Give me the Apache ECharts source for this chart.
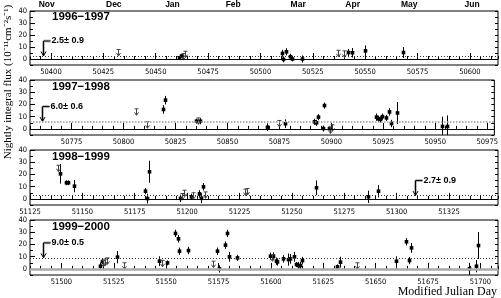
<!DOCTYPE html>
<html><head><meta charset="utf-8">
<script src="https://cdn.jsdelivr.net/npm/echarts@6/dist/echarts.min.js"></script>
<style>html,body{margin:0;padding:0;background:#fff}#c{width:501px;height:298px}</style>
</head><body><div id="c"></div>
<script>
// ---- data ----
const seasons = ['1996\u22121997', '1997\u22121998', '1998\u22121999', '1999\u22122000'];
const panelStart = [50390, 50755, 51125, 51485];
const averages = [2.5, 6.0, 2.7, 9.0];
const averageErr = [0.9, 0.6, 0.9, 0.5];
const averageMarkDay = [50396.2, 50761, 51309, 51491.4];
const monthNames = ['Nov', 'Dec', 'Jan', 'Feb', 'Mar', 'Apr', 'May', 'Jun'];
const monthDays = [50398, 50430, 50458, 50487, 50518, 50544, 50571, 50601];
const yTickLabels = [0, 10, 20, 30, 40];

const p1Day = [50461, 50462, 50510.3, 50510.8, 50512.2, 50514.1, 50515, 50519.8, 50541.8, 50543.7, 50550, 50568];
const p1Flux = [1, 2.5, 4.6, -0.3, 6, 1.9, 0, 0, 5.4, 5.2, 6.8, 5.4];
const p1Err = [1.5, 1.5, 3, 2.5, 3, 2.5, 2, 3, 3, 4, 4.5, 4.5];
const p1UlDay = [50432.2, 50463, 50464, 50537, 50539.9];
const p1UlFlux = [7.9, 4.5, 6.5, 7.3, 6.8];

const p2Day = [50819, 50820, 50835, 50837, 50868.8, 50877.7, 50891.5, 50892.6, 50893.6, 50895.8, 50896.6, 50898.7, 50921.4, 50922.2, 50923.3, 50924.2, 50926.5, 50927.6, 50928.6, 50931.6, 50953.3, 50955.5];
const p2Flux = [15.9, 23.5, 6.3, 6.3, 1.4, 4.2, 5.8, 5.0, 9.6, 0.3, 19.1, 0.3, 9.6, 8.3, 7.8, 10, 9, 13.9, 4.4, 13, 2, 2];
const p2Err = [3.5, 3.5, 2, 2.5, 3.2, 3.6, 2.5, 2.5, 2.5, 2.5, 2.5, 1.5, 3, 2.5, 2.5, 2.5, 2.5, 3, 3, 9, 8, 9];
const p2UlDay = [50806.1, 50811.2, 50836, 50874.8, 50899.5, 50900.3];
const p2UlFlux = [16.4, 5.8, 9, 6.9, 1.5, 3.4];

const p3Day = [51139.2, 51142, 51143.1, 51146, 51179.9, 51181, 51181.8, 51196.6, 51202, 51205.6, 51206.7, 51207.6, 51261.6, 51286.5, 51291.2];
const p3Flux = [20.5, 13.2, 13.2, 10.4, 6.3, 0.3, 22.2, 0.4, 1.7, 4.1, 0.5, 9.9, 9.1, 1.7, 6.3];
const p3Err = [8, 2, 2, 5, 2.5, 4, 9, 3, 2.5, 3, 4, 3, 6, 5, 5];
const p3UlDay = [51138.3, 51197.7, 51198.5, 51203, 51208.5, 51227.4, 51228.4];
const p3UlFlux = [27.5, 4.4, 7.1, 5, 5.7, 8, 8.5];

const p4Day = [51518.4, 51519.2, 51526.4, 51546.7, 51550.5, 51554.2, 51555.5, 51556.3, 51560.3, 51574.4, 51575.2, 51578.2, 51579.2, 51580.1, 51584, 51599.8, 51601, 51602.4, 51603, 51605.9, 51608, 51609.1, 51611, 51612, 51613.1, 51613.9, 51615, 51631.7, 51633, 51659.7, 51664.5, 51665.8, 51666.7, 51694.7, 51697.7, 51698.7];
const p4Flux = [2.2, 6, 9.6, 6.3, 4.9, 29, 24.6, 14.5, 15, 14.5, 0, 19.4, 29, 9.9, 9, 10.4, 10.4, 6.3, 5.7, 8.2, 7.6, 8.2, 9.9, 3.6, 2.7, 2.7, 6.8, 1.7, 5.5, 6.3, 22.2, 6.8, 17.2, 0, 2.2, 19.1];
const p4Err = [3, 2, 5, 4, 2, 3, 3, 3, 3, 3, 3, 3, 3, 4, 2.5, 3, 3, 3, 3, 3, 5, 4, 4, 2, 3, 3, 3, 2, 4.5, 4, 3, 3, 4, 5, 5, 11];
const p4UlDay = [51520, 51521, 51521.7, 51529.9, 51548, 51572.2, 51600.5, 51640.9];
const p4UlFlux = [7, 8, 9, 5, 7, 6.3, 11.5, 5];

// ---- build ----
const panels = [
  {day: p1Day, flux: p1Flux, err: p1Err, ulDay: p1UlDay, ulFlux: p1UlFlux},
  {day: p2Day, flux: p2Flux, err: p2Err, ulDay: p2UlDay, ulFlux: p2UlFlux},
  {day: p3Day, flux: p3Flux, err: p3Err, ulDay: p3UlDay, ulFlux: p3UlFlux},
  {day: p4Day, flux: p4Flux, err: p4Err, ulDay: p4UlDay, ulFlux: p4UlFlux}
];
const SPAN = 223.4;
const FONT = '"Liberation Sans Narrow","DejaVu Sans Condensed","Liberation Sans",sans-serif';
const grids = [], xAxes = [], yAxes = [], series = [];

function renderErr(params, api) {
  const d = api.value(0), f = api.value(1), e = api.value(2);
  const p = api.coord([d, f]);
  const hi = api.coord([d, f + e]), lo = api.coord([d, f - e]);
  const x = Math.round(p[0]) + 0.5;
  return {type: 'group', children: [
    {type: 'line', shape: {x1: x, y1: hi[1], x2: x, y2: lo[1]}, style: {stroke: '#000', lineWidth: 1}},
    {type: 'rect', shape: {x: x - 1.8, y: p[1] - 1.8, width: 3.6, height: 3.6}, style: {fill: '#000'}}
  ]};
}
function renderUl(params, api) {
  const p = api.coord([api.value(0), api.value(1)]);
  const x = Math.round(p[0]) + 0.5, y = p[1];
  const st = {stroke: '#444', lineWidth: 1, fill: null};
  return {type: 'group', children: [
    {type: 'line', shape: {x1: x - 2, y1: y, x2: x + 2, y2: y}, style: st},
    {type: 'line', shape: {x1: x, y1: y, x2: x, y2: y + 6}, style: st},
    {type: 'polyline', shape: {points: [[x - 2, y + 3.5], [x, y + 6.5], [x + 2, y + 3.5]]}, style: st}
  ]};
}
function renderAvg(params, api) {
  const p = api.coord([api.value(0), api.value(1)]);
  const x = Math.round(p[0]) + 0.5, y0 = p[1], yt = y0 - 15;
  const txt = api.value(1).toFixed(1) + '\u00b1 ' + api.value(2).toFixed(1);
  return {type: 'group', children: [
    {type: 'line', shape: {x1: x, y1: yt, x2: x, y2: y0 - 2}, style: {stroke: '#bbb', lineWidth: 3}},
    {type: 'line', shape: {x1: x, y1: yt, x2: x + 7, y2: yt}, style: {stroke: '#bbb', lineWidth: 3}},
    {type: 'line', shape: {x1: x, y1: yt, x2: x, y2: y0}, style: {stroke: '#000', lineWidth: 1}},
    {type: 'line', shape: {x1: x, y1: yt, x2: x + 7, y2: yt}, style: {stroke: '#000', lineWidth: 1}},
    {type: 'polyline', shape: {points: [[x - 2.5, y0 - 4.5], [x, y0], [x + 2.5, y0 - 4.5]]}, style: {stroke: '#000', lineWidth: 1, fill: null}},
    {type: 'text', x: x + 8, y: yt, style: {text: txt, fill: '#000', font: 'bold 9px "Liberation Sans", Arial, sans-serif', align: 'left', verticalAlign: 'middle'}}
  ]};
}

panels.forEach((pn, k) => {
  const min = panelStart[k], max = panelStart[k] + SPAN;
  grids.push({left: 30, right: 3, top: 10 + 70 * k, height: 55, show: true, borderColor: '#000', borderWidth: 1, backgroundColor: 'transparent'});
  const xi = xAxes.length;
  xAxes.push({type: 'value', gridIndex: k, min: min, max: max, interval: 5, position: 'bottom',
    axisLine: {show: false}, splitLine: {show: false},
    axisTick: {inside: true, length: 3, lineStyle: {color: '#000'}},
    axisLabel: {formatter: v => (Math.abs(v % 25) < 1e-6 ? String(v) : ''), fontSize: 7.5, fontFamily: FONT, color: '#000', margin: 3}});
  const majors = [];
  for (let v = Math.ceil(min / 25) * 25; v <= max; v += 25) majors.push(v);
  xAxes.push({type: 'value', gridIndex: k, min: min, max: max, position: 'bottom',
    axisLine: {show: false}, splitLine: {show: false}, axisLabel: {show: false},
    axisTick: {inside: true, length: 6, customValues: majors, lineStyle: {color: '#000'}}});
  if (k === 0) {
    xAxes.push({type: 'value', gridIndex: 0, min: min, max: max, position: 'top',
      axisLine: {show: false}, splitLine: {show: false}, axisTick: {show: false},
      axisLabel: {customValues: monthDays, formatter: v => monthNames[monthDays.indexOf(v)] || '',
        fontSize: 8.5, fontWeight: 'bold', fontFamily: '"Liberation Sans", Arial, sans-serif', color: '#000', margin: 2}});
  }
  const yi = yAxes.length;
  yAxes.push({type: 'value', gridIndex: k, min: -5, max: 40, interval: 5, position: 'left',
    axisLine: {show: false}, splitLine: {show: false},
    axisTick: {inside: true, length: 3, lineStyle: {color: '#000'}},
    axisLabel: {formatter: v => (yTickLabels.indexOf(v) >= 0 ? String(v) : ''), fontSize: 7.5, fontFamily: FONT, color: '#000', margin: 3}});
  yAxes.push({type: 'value', gridIndex: k, min: -5, max: 40, position: 'left',
    axisLine: {show: false}, splitLine: {show: false}, axisLabel: {show: false},
    axisTick: {inside: true, length: 5, customValues: yTickLabels, lineStyle: {color: '#000'}}});
  yAxes.push({type: 'value', gridIndex: k, min: -5, max: 40, interval: 5, position: 'right',
    axisLine: {show: false}, splitLine: {show: false}, axisLabel: {show: false},
    axisTick: {inside: true, length: 3, lineStyle: {color: '#000'}}});

  const zeroStyle = k === 3 ? {color: '#aaa', width: 2.5, type: 'solid'} : {color: '#000', width: 1, type: 'solid'};
  const avgStyle = k === 1 ? {color: '#999', width: 1.5, type: [1.5, 1.5]} : {color: '#333', width: 1, type: [1, 2]};
  series.push({type: 'custom', xAxisIndex: xi, yAxisIndex: yi, clip: true, silent: true,
    data: [[panelStart[k], 0, 0]], renderItem: () => ({type: 'group', children: []}),
    encode: {x: 0, y: 1},
    markLine: {silent: true, symbol: ['none', 'none'], label: {show: false}, animation: false,
      data: [{yAxis: 0, lineStyle: zeroStyle}, {yAxis: averages[k], lineStyle: avgStyle}]}});
  series.push({type: 'custom', xAxisIndex: xi, yAxisIndex: yi, clip: true, silent: true,
    data: pn.day.map((d, i) => [d, pn.flux[i], pn.err[i]]), encode: {x: 0, y: 1}, renderItem: renderErr});
  series.push({type: 'custom', xAxisIndex: xi, yAxisIndex: yi, clip: true, silent: true,
    data: pn.ulDay.map((d, i) => [d, pn.ulFlux[i]]), encode: {x: 0, y: 1}, renderItem: renderUl});
  series.push({type: 'custom', xAxisIndex: xi, yAxisIndex: yi, clip: false, silent: true,
    data: [[averageMarkDay[k], averages[k], averageErr[k]]], encode: {x: 0, y: 1}, renderItem: renderAvg});
});

const chart = echarts.init(document.getElementById('c'), null, {renderer: 'canvas'});
chart.setOption({
  animation: false,
  backgroundColor: '#fff',
  title: seasons.map((s, k) => ({text: s, left: 52, top: 11 + 70 * k, padding: 0,
    textStyle: {fontSize: 11.5, fontWeight: 'bold', fontFamily: '"Liberation Sans", Arial, sans-serif', color: '#000'}})),
  grid: grids, xAxis: xAxes, yAxis: yAxes, series: series,
  graphic: [
    {type: 'text', x: 8, y: 82, rotation: Math.PI / 2,
      style: {text: 'Nightly integral flux (10\u207b\u00b9\u00b9cm\u207b\u00b2s\u207b\u00b9)', fill: '#000',
        font: '11px "Liberation Serif", "Times New Roman", serif', align: 'center', verticalAlign: 'middle'}},
    {type: 'text', x: 497, y: 292,
      style: {text: 'Modified Julian Day', fill: '#000', font: '12px "Liberation Serif", "Times New Roman", serif', align: 'right', verticalAlign: 'middle'}}
  ]
});
</script></body></html>
